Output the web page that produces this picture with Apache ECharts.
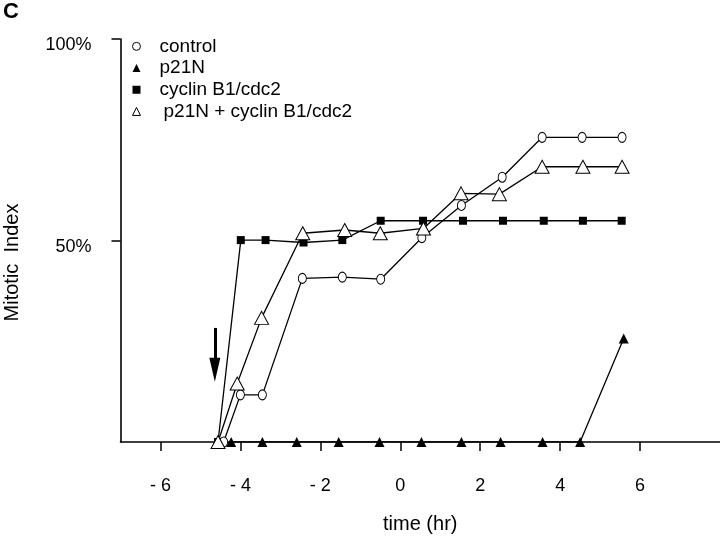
<!DOCTYPE html>
<html>
<head>
<meta charset="utf-8">
<script src="https://cdn.jsdelivr.net/npm/echarts@6/dist/echarts.min.js"></script>
<style>
html,body{margin:0;padding:0;background:#fff;}
#chart{width:720px;height:537px;}
</style>
</head>
<body>
<div id="chart"></div>
<script>
// ---- data ----
const seriesNames = ['control', 'p21N', 'cyclin B1/cdc2', 'p21N + cyclin B1/cdc2'];
const controlX = [-4.42, -4.0, -3.45, -2.45, -1.45, -0.49, 0.54, 1.53, 2.55, 3.55, 4.55, 5.55];
const controlY = [0, 11.7, 11.7, 40.6, 40.9, 40.4, 50.7, 58.7, 65.7, 75.6, 75.6, 75.6];
const p21nX = [-4.23, -3.45, -2.59, -1.54, -0.52, 0.53, 1.53, 2.51, 3.56, 4.5, 5.59];
const p21nY = [0, 0, 0, 0, 0, 0, 0, 0, 0, 0, 25.7];
const cyclinX = [-4.56, -3.99, -3.37, -2.42, -1.45, -0.49, 0.57, 1.57, 2.57, 3.59, 4.57, 5.54];
const cyclinY = [0, 50.1, 50.1, 49.5, 50.1, 54.9, 54.9, 54.9, 54.9, 54.9, 54.9, 54.9];
const comboX = [-4.56, -4.08, -3.47, -2.44, -1.39, -0.5, 0.58, 1.52, 2.48, 3.55, 4.57, 5.55];
const comboY = [0, 14.5, 30.8, 51.8, 52.6, 51.8, 53.0, 61.7, 61.5, 68.3, 68.3, 68.3];
const xTicks = [-6, -4, -2, 0, 2, 4, 6];
const yTicks = [50, 100];
const arrowX = -4.64;
const arrowY = [28.3, 17.9];

function pairs(xs, ys) { return xs.map((x, i) => [x, ys[i]]); }

const FONT = "'Liberation Sans', Arial, Helvetica, sans-serif";
const chart = echarts.init(document.getElementById('chart'), null, {renderer: 'canvas'});

const lineStyle = {color: '#000', width: 1.3};

const option = {
  animation: false,
  backgroundColor: '#fff',
  title: {
    text: 'C', left: 3, top: 1, padding: 0,
    textStyle: {fontFamily: FONT, fontSize: 22, fontWeight: 'bold', color: '#000'}
  },
  grid: {left: 120.5, right: 0, top: 39, bottom: 95, containLabel: false, outerBoundsMode: 'none'},
  legend: {
    orient: 'vertical', left: 132, top: 35.5, padding: 0,
    itemWidth: 8, itemHeight: 8, itemGap: 0,
    selectedMode: false,
    textStyle: {fontFamily: FONT, fontSize: 19, color: '#000', lineHeight: 21.7, padding: [0, 0, 0, 14]},
    data: [
      {name: seriesNames[0], icon: 'circle', itemStyle: {color: '#fff', borderColor: '#000', borderWidth: 1}},
      {name: seriesNames[1], icon: 'triangle', itemStyle: {color: '#000', borderWidth: 0}},
      {name: seriesNames[2], icon: 'rect', itemStyle: {color: '#000', borderWidth: 0}},
      {name: seriesNames[3], icon: 'triangle', itemStyle: {color: '#fff', borderColor: '#000', borderWidth: 1},
       textStyle: {padding: [0, 0, 0, 18]}}
    ]
  },
  xAxis: {
    type: 'value', min: -7, max: 8,
    name: 'time (hr)', nameLocation: 'middle', nameGap: 72,
    nameTextStyle: {fontFamily: FONT, fontSize: 20, color: '#000'},
    axisLine: {show: true, onZero: false, lineStyle: {color: '#000', width: 1.6}},
    axisTick: {show: true, inside: false, length: 9, customValues: xTicks, lineStyle: {color: '#000', width: 1.5}},
    axisLabel: {
      show: true, margin: 35, customValues: xTicks,
      fontFamily: FONT, fontSize: 18, color: '#000',
      formatter: v => v < 0 ? '- ' + (-v) : String(v)
    },
    splitLine: {show: false}
  },
  yAxis: {
    type: 'value', min: 0, max: 100,
    name: 'Mitotic  Index', nameLocation: 'middle', nameGap: 98,
    nameTextStyle: {fontFamily: FONT, fontSize: 20, color: '#000', padding: [0, 44, 0, 0]},
    axisLine: {show: true, onZero: false, lineStyle: {color: '#000', width: 1.6}},
    axisTick: {show: true, inside: false, length: 9, customValues: yTicks, lineStyle: {color: '#000', width: 1.5}},
    axisLabel: {
      show: true, margin: 29, customValues: yTicks,
      fontFamily: FONT, fontSize: 18, color: '#000',
      verticalAlign: 'top', lineHeight: 13,
      formatter: v => v + '%'
    },
    splitLine: {show: false}
  },
  series: [
    {
      name: seriesNames[1], type: 'line', data: pairs(p21nX, p21nY),
      symbol: 'triangle', symbolSize: 10, showAllSymbol: true,
      itemStyle: {color: '#000'}, lineStyle: lineStyle, z: 2
    },
    {
      name: seriesNames[2], type: 'line', data: pairs(cyclinX, cyclinY),
      symbol: 'rect', symbolSize: 8, showAllSymbol: true,
      itemStyle: {color: '#000'}, lineStyle: lineStyle, z: 3,
      markLine: {
        silent: true, animation: false,
        symbol: ['none', 'triangle'], symbolSize: [11, 24],
        lineStyle: {color: '#000', width: 3, type: 'solid'},
        label: {show: false},
        emphasis: {disabled: true},
        data: [[{coord: [arrowX, arrowY[0]]}, {coord: [arrowX, arrowY[1]]}]]
      }
    },
    {
      name: seriesNames[0], type: 'line', data: pairs(controlX, controlY),
      symbol: 'circle', symbolSize: [8, 10], showAllSymbol: true,
      itemStyle: {color: '#fff', borderColor: '#000', borderWidth: 1}, lineStyle: lineStyle, z: 4
    },
    {
      name: seriesNames[3], type: 'line', data: pairs(comboX, comboY),
      symbol: 'triangle', symbolSize: [14, 13], showAllSymbol: true,
      itemStyle: {color: '#fff', borderColor: '#000', borderWidth: 1}, lineStyle: lineStyle, z: 5
    }
  ]
};
chart.setOption(option);
</script>
</body>
</html>
